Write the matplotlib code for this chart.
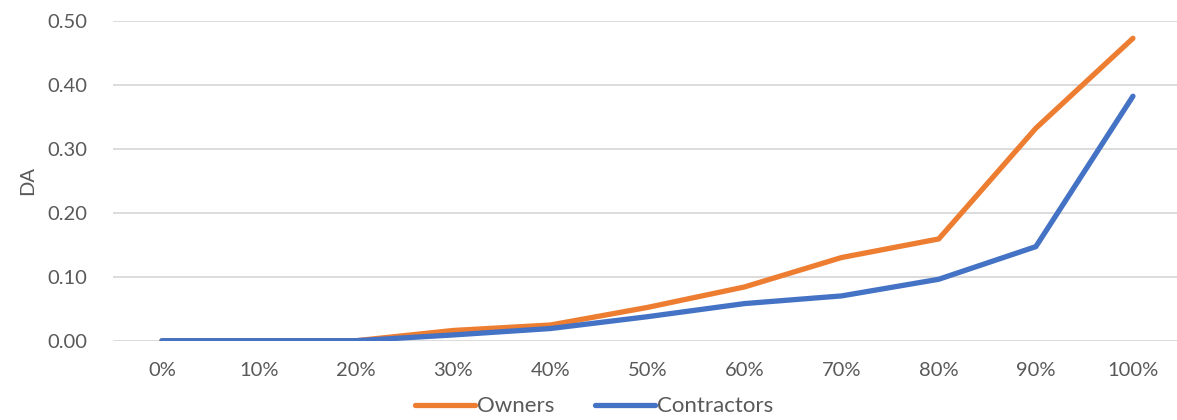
import matplotlib.pyplot as plt

plt.rcParams['font.family'] = ['Lato', 'DejaVu Sans']

categories = ['0%', '10%', '20%', '30%', '40%', '50%', '60%', '70%', '80%', '90%', '100%']
owners = [0.0, 0.0, 0.0, 0.016, 0.0245, 0.052, 0.084, 0.130, 0.159, 0.332, 0.4725]
contractors = [0.0, 0.0, 0.0, 0.009, 0.019, 0.0375, 0.058, 0.070, 0.096, 0.147, 0.382]
y_ticks = [0.0, 0.1, 0.2, 0.3, 0.4, 0.5]

fig = plt.figure(figsize=(11.77, 4.2), dpi=100)
ax = fig.add_axes([113.4 / 1177, 1 - 340.7 / 420, (1177 - 113.4) / 1177, 320 / 420])

x = list(range(len(categories)))
ax.plot(x, owners, color='#ED7D31', lw=3.8, solid_capstyle='round', solid_joinstyle='round', label='Owners', zorder=3)
ax.plot(x, contractors, color='#4472C4', lw=3.8, solid_capstyle='round', solid_joinstyle='round', label='Contractors', zorder=4)

ax.set_xlim(-0.5, (1177 - 113.4) / 97.1 - 0.5)
ax.set_ylim(0, 0.5)
ax.set_yticks(y_ticks)
ax.set_yticklabels([f'{v:.2f}' for v in y_ticks])
ax.set_xticks(x)
ax.set_xticklabels(categories)
ax.grid(axis='y', color='#D9D9D9', lw=1.3)
ax.set_axisbelow(True)
for s in ax.spines.values():
    s.set_visible(False)
ax.tick_params(length=0, labelsize=14.5, colors='#595959', pad=15)
ax.tick_params(axis='y', pad=19)
ax.set_ylabel('DA', fontsize=14.5, color='#595959', labelpad=8)

ax.legend(loc='center', bbox_to_anchor=(0.452, -0.205), ncol=2, frameon=False,
          fontsize=16, labelcolor='#595959', handlelength=2.7, handletextpad=0.1,
          columnspacing=1.8)

fig.savefig('out.png', dpi=100)
